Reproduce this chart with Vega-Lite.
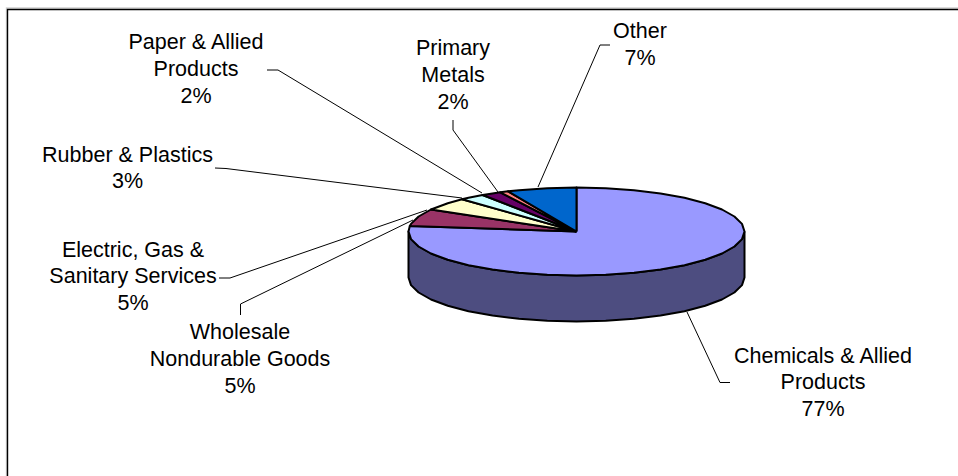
{
  "$schema": "https://vega.github.io/schema/vega-lite/v6.json",
  "width": 958,
  "height": 476,
  "autosize": "none",
  "padding": 0,
  "background": "#ffffff",
  "view": {"stroke": null},
  "datasets": {
    "faces": [
      {"slice": "Side wall", "seq": 1, "x": 744.5, "y": 231.5},
      {"slice": "Side wall", "seq": 2, "x": 742.0, "y": 239.1},
      {"slice": "Side wall", "seq": 3, "x": 734.4, "y": 246.5},
      {"slice": "Side wall", "seq": 4, "x": 722.0, "y": 253.5},
      {"slice": "Side wall", "seq": 5, "x": 705.2, "y": 259.8},
      {"slice": "Side wall", "seq": 6, "x": 684.5, "y": 265.2},
      {"slice": "Side wall", "seq": 7, "x": 660.5, "y": 269.6},
      {"slice": "Side wall", "seq": 8, "x": 634.0, "y": 272.8},
      {"slice": "Side wall", "seq": 9, "x": 605.7, "y": 274.8},
      {"slice": "Side wall", "seq": 10, "x": 576.5, "y": 275.5},
      {"slice": "Side wall", "seq": 11, "x": 547.3, "y": 274.8},
      {"slice": "Side wall", "seq": 12, "x": 519.0, "y": 272.8},
      {"slice": "Side wall", "seq": 13, "x": 492.5, "y": 269.6},
      {"slice": "Side wall", "seq": 14, "x": 468.5, "y": 265.2},
      {"slice": "Side wall", "seq": 15, "x": 447.8, "y": 259.8},
      {"slice": "Side wall", "seq": 16, "x": 431.0, "y": 253.5},
      {"slice": "Side wall", "seq": 17, "x": 418.6, "y": 246.5},
      {"slice": "Side wall", "seq": 18, "x": 411.0, "y": 239.1},
      {"slice": "Side wall", "seq": 19, "x": 408.5, "y": 231.5},
      {"slice": "Side wall", "seq": 20, "x": 408.5, "y": 277.5},
      {"slice": "Side wall", "seq": 21, "x": 411.0, "y": 285.1},
      {"slice": "Side wall", "seq": 22, "x": 418.6, "y": 292.5},
      {"slice": "Side wall", "seq": 23, "x": 431.0, "y": 299.5},
      {"slice": "Side wall", "seq": 24, "x": 447.8, "y": 305.8},
      {"slice": "Side wall", "seq": 25, "x": 468.5, "y": 311.2},
      {"slice": "Side wall", "seq": 26, "x": 492.5, "y": 315.6},
      {"slice": "Side wall", "seq": 27, "x": 519.0, "y": 318.8},
      {"slice": "Side wall", "seq": 28, "x": 547.3, "y": 320.8},
      {"slice": "Side wall", "seq": 29, "x": 576.5, "y": 321.5},
      {"slice": "Side wall", "seq": 30, "x": 605.7, "y": 320.8},
      {"slice": "Side wall", "seq": 31, "x": 634.0, "y": 318.8},
      {"slice": "Side wall", "seq": 32, "x": 660.5, "y": 315.6},
      {"slice": "Side wall", "seq": 33, "x": 684.5, "y": 311.2},
      {"slice": "Side wall", "seq": 34, "x": 705.2, "y": 305.8},
      {"slice": "Side wall", "seq": 35, "x": 722.0, "y": 299.5},
      {"slice": "Side wall", "seq": 36, "x": 734.4, "y": 292.5},
      {"slice": "Side wall", "seq": 37, "x": 742.0, "y": 285.1},
      {"slice": "Side wall", "seq": 38, "x": 744.5, "y": 277.5},
      {"slice": "Side wall", "seq": 39, "x": 744.5, "y": 231.5},

      {"slice": "Chemicals & Allied Products", "seq": 1, "x": 576.5, "y": 231.5},
      {"slice": "Chemicals & Allied Products", "seq": 2, "x": 576.5, "y": 187.5},
      {"slice": "Chemicals & Allied Products", "seq": 3, "x": 605.7, "y": 188.2},
      {"slice": "Chemicals & Allied Products", "seq": 4, "x": 634.0, "y": 190.2},
      {"slice": "Chemicals & Allied Products", "seq": 5, "x": 660.5, "y": 193.4},
      {"slice": "Chemicals & Allied Products", "seq": 6, "x": 684.5, "y": 197.8},
      {"slice": "Chemicals & Allied Products", "seq": 7, "x": 705.2, "y": 203.2},
      {"slice": "Chemicals & Allied Products", "seq": 8, "x": 722.0, "y": 209.5},
      {"slice": "Chemicals & Allied Products", "seq": 9, "x": 734.4, "y": 216.5},
      {"slice": "Chemicals & Allied Products", "seq": 10, "x": 742.0, "y": 223.9},
      {"slice": "Chemicals & Allied Products", "seq": 11, "x": 744.5, "y": 231.5},
      {"slice": "Chemicals & Allied Products", "seq": 12, "x": 742.0, "y": 239.1},
      {"slice": "Chemicals & Allied Products", "seq": 13, "x": 734.4, "y": 246.5},
      {"slice": "Chemicals & Allied Products", "seq": 14, "x": 722.0, "y": 253.5},
      {"slice": "Chemicals & Allied Products", "seq": 15, "x": 705.2, "y": 259.8},
      {"slice": "Chemicals & Allied Products", "seq": 16, "x": 684.5, "y": 265.2},
      {"slice": "Chemicals & Allied Products", "seq": 17, "x": 660.5, "y": 269.6},
      {"slice": "Chemicals & Allied Products", "seq": 18, "x": 634.0, "y": 272.8},
      {"slice": "Chemicals & Allied Products", "seq": 19, "x": 605.7, "y": 274.8},
      {"slice": "Chemicals & Allied Products", "seq": 20, "x": 576.5, "y": 275.5},
      {"slice": "Chemicals & Allied Products", "seq": 21, "x": 547.3, "y": 274.8},
      {"slice": "Chemicals & Allied Products", "seq": 22, "x": 519.0, "y": 272.8},
      {"slice": "Chemicals & Allied Products", "seq": 23, "x": 492.5, "y": 269.6},
      {"slice": "Chemicals & Allied Products", "seq": 24, "x": 468.5, "y": 265.2},
      {"slice": "Chemicals & Allied Products", "seq": 25, "x": 447.8, "y": 259.8},
      {"slice": "Chemicals & Allied Products", "seq": 26, "x": 431.0, "y": 253.5},
      {"slice": "Chemicals & Allied Products", "seq": 27, "x": 418.6, "y": 246.5},
      {"slice": "Chemicals & Allied Products", "seq": 28, "x": 411.0, "y": 239.1},
      {"slice": "Chemicals & Allied Products", "seq": 29, "x": 408.5, "y": 231.5},
      {"slice": "Chemicals & Allied Products", "seq": 30, "x": 409.8, "y": 226.0},
      {"slice": "Chemicals & Allied Products", "seq": 31, "x": 576.5, "y": 231.5},

      {"slice": "Wholesale Nondurable Goods", "seq": 1, "x": 576.5, "y": 231.5},
      {"slice": "Wholesale Nondurable Goods", "seq": 2, "x": 409.8, "y": 226.0},
      {"slice": "Wholesale Nondurable Goods", "seq": 3, "x": 411.0, "y": 223.9},
      {"slice": "Wholesale Nondurable Goods", "seq": 4, "x": 418.6, "y": 216.5},
      {"slice": "Wholesale Nondurable Goods", "seq": 5, "x": 431.0, "y": 209.5},
      {"slice": "Wholesale Nondurable Goods", "seq": 6, "x": 576.5, "y": 231.5},

      {"slice": "Electric, Gas & Sanitary Services", "seq": 1, "x": 576.5, "y": 231.5},
      {"slice": "Electric, Gas & Sanitary Services", "seq": 2, "x": 431.0, "y": 209.5},
      {"slice": "Electric, Gas & Sanitary Services", "seq": 3, "x": 447.8, "y": 203.2},
      {"slice": "Electric, Gas & Sanitary Services", "seq": 4, "x": 462.0, "y": 199.3},
      {"slice": "Electric, Gas & Sanitary Services", "seq": 5, "x": 576.5, "y": 231.5},

      {"slice": "Rubber & Plastics", "seq": 1, "x": 576.5, "y": 231.5},
      {"slice": "Rubber & Plastics", "seq": 2, "x": 462.0, "y": 199.3},
      {"slice": "Rubber & Plastics", "seq": 3, "x": 468.5, "y": 197.8},
      {"slice": "Rubber & Plastics", "seq": 4, "x": 482.6, "y": 195.0},
      {"slice": "Rubber & Plastics", "seq": 5, "x": 576.5, "y": 231.5},

      {"slice": "Paper & Allied Products", "seq": 1, "x": 576.5, "y": 231.5},
      {"slice": "Paper & Allied Products", "seq": 2, "x": 482.6, "y": 195.0},
      {"slice": "Paper & Allied Products", "seq": 3, "x": 492.5, "y": 193.4},
      {"slice": "Paper & Allied Products", "seq": 4, "x": 500.2, "y": 192.3},
      {"slice": "Paper & Allied Products", "seq": 5, "x": 576.5, "y": 231.5},

      {"slice": "Primary Metals", "seq": 1, "x": 576.5, "y": 231.5},
      {"slice": "Primary Metals", "seq": 2, "x": 500.2, "y": 192.3},
      {"slice": "Primary Metals", "seq": 3, "x": 508.1, "y": 191.3},
      {"slice": "Primary Metals", "seq": 4, "x": 576.5, "y": 231.5},

      {"slice": "Other", "seq": 1, "x": 576.5, "y": 231.5},
      {"slice": "Other", "seq": 2, "x": 508.1, "y": 191.3},
      {"slice": "Other", "seq": 3, "x": 519.0, "y": 190.2},
      {"slice": "Other", "seq": 4, "x": 547.3, "y": 188.2},
      {"slice": "Other", "seq": 5, "x": 576.5, "y": 187.5},
      {"slice": "Other", "seq": 6, "x": 576.5, "y": 231.5}
    ],
    "leaders": [
      {"leader": "Chemicals", "seq": 1, "x": 687, "y": 312},
      {"leader": "Chemicals", "seq": 2, "x": 720, "y": 382.5},
      {"leader": "Chemicals", "seq": 3, "x": 730, "y": 382.5},
      {"leader": "Wholesale", "seq": 1, "x": 240.5, "y": 315},
      {"leader": "Wholesale", "seq": 2, "x": 240.5, "y": 304},
      {"leader": "Wholesale", "seq": 3, "x": 413, "y": 220},
      {"leader": "Electric", "seq": 1, "x": 219, "y": 278},
      {"leader": "Electric", "seq": 2, "x": 230, "y": 278},
      {"leader": "Electric", "seq": 3, "x": 427, "y": 210},
      {"leader": "Rubber", "seq": 1, "x": 215, "y": 168},
      {"leader": "Rubber", "seq": 2, "x": 226, "y": 168.5},
      {"leader": "Rubber", "seq": 3, "x": 462, "y": 198},
      {"leader": "Paper", "seq": 1, "x": 267, "y": 70},
      {"leader": "Paper", "seq": 2, "x": 278, "y": 70},
      {"leader": "Paper", "seq": 3, "x": 482, "y": 193},
      {"leader": "Primary", "seq": 1, "x": 453, "y": 120},
      {"leader": "Primary", "seq": 2, "x": 453, "y": 130},
      {"leader": "Primary", "seq": 3, "x": 498, "y": 192},
      {"leader": "Other", "seq": 1, "x": 610, "y": 45},
      {"leader": "Other", "seq": 2, "x": 600, "y": 45},
      {"leader": "Other", "seq": 3, "x": 538, "y": 187}
    ],
    "frame": [
      {"edge": "shadow", "seq": 1, "x": 958, "y": 8},
      {"edge": "shadow", "seq": 2, "x": 6.5, "y": 8},
      {"edge": "shadow", "seq": 3, "x": 6.5, "y": 476},
      {"edge": "border", "seq": 1, "x": 958, "y": 9.5},
      {"edge": "border", "seq": 2, "x": 7.5, "y": 9.5},
      {"edge": "border", "seq": 3, "x": 7.5, "y": 476}
    ],
    "labels": [
      {"label": "Chemicals & Allied\nProducts\n77%", "x": 823, "y": 356.5},
      {"label": "Wholesale\nNondurable Goods\n5%", "x": 240, "y": 333},
      {"label": "Electric, Gas &\nSanitary Services\n5%", "x": 133, "y": 250.5},
      {"label": "Rubber & Plastics\n3%", "x": 127.5, "y": 155.5},
      {"label": "Paper & Allied\nProducts\n2%", "x": 196, "y": 43},
      {"label": "Primary\nMetals\n2%", "x": 453, "y": 49},
      {"label": "Other\n7%", "x": 640, "y": 32}
    ]
  },
  "layer": [
    {
      "data": {"name": "frame"},
      "mark": {"type": "line", "strokeWidth": 1.4, "clip": false},
      "encoding": {
        "x": {"field": "x", "type": "quantitative", "scale": {"domain": [0, 958]}, "axis": null},
        "y": {"field": "y", "type": "quantitative", "scale": {"domain": [476, 0]}, "axis": null},
        "order": {"field": "seq"},
        "stroke": {"field": "edge", "type": "nominal", "legend": null, "scale": {"domain": ["shadow", "border"], "range": ["#d0d0d0", "#000000"]}}
      }
    },
    {
      "data": {"name": "leaders"},
      "mark": {"type": "line", "stroke": "#000000", "strokeWidth": 1},
      "encoding": {
        "x": {"field": "x", "type": "quantitative", "scale": {"domain": [0, 958]}, "axis": null},
        "y": {"field": "y", "type": "quantitative", "scale": {"domain": [476, 0]}, "axis": null},
        "detail": {"field": "leader"},
        "order": {"field": "seq"}
      }
    },
    {
      "data": {"name": "faces"},
      "mark": {"type": "line", "filled": true, "stroke": "#000000", "strokeWidth": 2, "strokeJoin": "round"},
      "encoding": {
        "x": {"field": "x", "type": "quantitative", "scale": {"domain": [0, 958]}, "axis": null},
        "y": {"field": "y", "type": "quantitative", "scale": {"domain": [476, 0]}, "axis": null},
        "detail": {"field": "slice"},
        "order": {"field": "seq"},
        "fill": {
          "field": "slice",
          "type": "nominal",
          "legend": null,
          "scale": {
            "domain": ["Side wall", "Chemicals & Allied Products", "Wholesale Nondurable Goods", "Electric, Gas & Sanitary Services", "Rubber & Plastics", "Paper & Allied Products", "Primary Metals", "Other"],
            "range": ["#4D4D80", "#9999FF", "#993366", "#FFFFCC", "#CCFFFF", "#660066", "#FF8080", "#0066CC"]
          }
        }
      }
    },
    {
      "data": {"name": "labels"},
      "mark": {"type": "text", "font": "Liberation Sans", "fontSize": 21.5, "lineHeight": 26.8, "lineBreak": "\n", "align": "center", "baseline": "middle", "color": "#000000"},
      "encoding": {
        "x": {"field": "x", "type": "quantitative", "scale": {"domain": [0, 958]}, "axis": null},
        "y": {"field": "y", "type": "quantitative", "scale": {"domain": [476, 0]}, "axis": null},
        "text": {"field": "label"}
      }
    }
  ]
}
